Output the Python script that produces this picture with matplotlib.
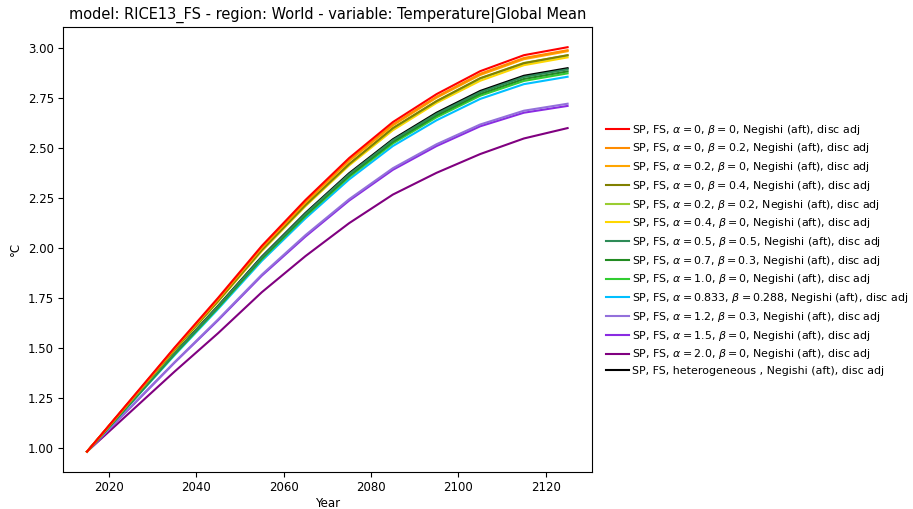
#!/usr/bin/env python3
"""
Global mean temperature, RICE13_FS, World region.

One line per SP/FS scenario (different alpha / beta inequality
aversion settings), legend placed outside on the right.
"""

import matplotlib
matplotlib.use('Agg')
import matplotlib.pyplot as plt

years = [2015, 2025, 2035, 2045, 2055, 2065, 2075, 2085, 2095, 2105, 2115, 2125]

labels = [
    r'SP, FS, $\alpha = 0$, $\beta = 0$, Negishi (aft), disc adj',
    r'SP, FS, $\alpha = 0$, $\beta = 0.2$, Negishi (aft), disc adj',
    r'SP, FS, $\alpha = 0.2$, $\beta = 0$, Negishi (aft), disc adj',
    r'SP, FS, $\alpha = 0$, $\beta = 0.4$, Negishi (aft), disc adj',
    r'SP, FS, $\alpha = 0.2$, $\beta = 0.2$, Negishi (aft), disc adj',
    r'SP, FS, $\alpha = 0.4$, $\beta = 0$, Negishi (aft), disc adj',
    r'SP, FS, $\alpha = 0.5$, $\beta = 0.5$, Negishi (aft), disc adj',
    r'SP, FS, $\alpha = 0.7$, $\beta = 0.3$, Negishi (aft), disc adj',
    r'SP, FS, $\alpha = 1.0$, $\beta = 0$, Negishi (aft), disc adj',
    r'SP, FS, $\alpha = 0.833$, $\beta = 0.288$, Negishi (aft), disc adj',
    r'SP, FS, $\alpha = 1.2$, $\beta = 0.3$, Negishi (aft), disc adj',
    r'SP, FS, $\alpha = 1.5$, $\beta = 0$, Negishi (aft), disc adj',
    r'SP, FS, $\alpha = 2.0$, $\beta = 0$, Negishi (aft), disc adj',
    'SP, FS, heterogeneous , Negishi (aft), disc adj',
]

colors = ['red', 'darkorange', 'orange', 'olive', 'yellowgreen', 'gold',
          'seagreen', 'forestgreen', 'limegreen', 'deepskyblue',
          'mediumpurple', 'blueviolet', 'purple', 'black']

# temperature (degC)
t_a0_b0 = [0.98, 1.240, 1.500, 1.750, 2.010, 2.240, 2.450, 2.630, 2.770, 2.885, 2.965, 3.005]
t_a0_b02 = [0.98, 1.238, 1.496, 1.745, 2.003, 2.230, 2.440, 2.618, 2.757, 2.872, 2.951, 2.990]
t_a02_b0 = [0.98, 1.237, 1.495, 1.742, 2.000, 2.227, 2.435, 2.613, 2.752, 2.866, 2.945, 2.985]
t_a0_b04 = [0.98, 1.235, 1.490, 1.735, 1.990, 2.215, 2.420, 2.600, 2.735, 2.850, 2.925, 2.965]
t_a02_b02 = [0.98, 1.235, 1.490, 1.734, 1.989, 2.214, 2.420, 2.598, 2.734, 2.848, 2.926, 2.964]
t_a04_b0 = [0.98, 1.234, 1.487, 1.731, 1.984, 2.209, 2.413, 2.589, 2.726, 2.837, 2.915, 2.954]
t_a05_b05 = [0.98, 1.226, 1.471, 1.708, 1.953, 2.171, 2.369, 2.539, 2.671, 2.780, 2.856, 2.894]
t_a07_b03 = [0.98, 1.224, 1.469, 1.704, 1.948, 2.164, 2.362, 2.531, 2.663, 2.771, 2.846, 2.884]
t_a10_b0 = [0.98, 1.223, 1.466, 1.700, 1.943, 2.158, 2.355, 2.523, 2.654, 2.762, 2.836, 2.874]
t_a0833_b0288 = [0.98, 1.221, 1.462, 1.694, 1.935, 2.148, 2.343, 2.510, 2.639, 2.746, 2.820, 2.857]
t_a12_b03 = [0.98, 1.204, 1.427, 1.642, 1.866, 2.064, 2.244, 2.399, 2.519, 2.618, 2.687, 2.722]
t_a15_b0 = [0.98, 1.202, 1.425, 1.638, 1.861, 2.057, 2.237, 2.391, 2.510, 2.609, 2.677, 2.711]
t_a20_b0 = [0.98, 1.180, 1.380, 1.573, 1.778, 1.959, 2.124, 2.267, 2.376, 2.470, 2.548, 2.600]
t_hetero = [0.98, 1.226, 1.473, 1.710, 1.956, 2.175, 2.374, 2.544, 2.677, 2.786, 2.862, 2.900]

series = [t_a0_b0, t_a0_b02, t_a02_b0, t_a0_b04, t_a02_b02, t_a04_b0,
          t_a05_b05, t_a07_b03, t_a10_b0, t_a0833_b0288, t_a12_b03,
          t_a15_b0, t_a20_b0, t_hetero]


def main():
    fig = plt.figure(figsize=(9.13, 5.09), dpi=100)
    ax = fig.add_axes([0.069, 0.073, 0.579, 0.874])

    n = len(series)
    for i, (vals, lab, col) in enumerate(zip(series, labels, colors)):
        # first scenarios end up on top, as in the original
        ax.plot(years, vals, color=col, lw=1.5, label=lab, zorder=2 + n - i)

    ax.set_title('model: RICE13_FS - region: World - variable: Temperature|Global Mean',
                 fontsize=10.5)
    ax.set_xlabel('Year', fontsize=8.5, labelpad=2)
    ax.set_ylabel('°C', fontsize=8.5)
    ax.tick_params(labelsize=8.5, pad=3)

    ax.legend(loc='center left', bbox_to_anchor=(0.655, 0.51),
              bbox_transform=fig.transFigure, frameon=False, fontsize=7.9,
              labelspacing=0.43, handlelength=2.1, handletextpad=0.3,
              borderpad=0.2)

    fig.savefig('out.png', dpi=100, facecolor='white')
    plt.close(fig)


if __name__ == '__main__':
    main()
